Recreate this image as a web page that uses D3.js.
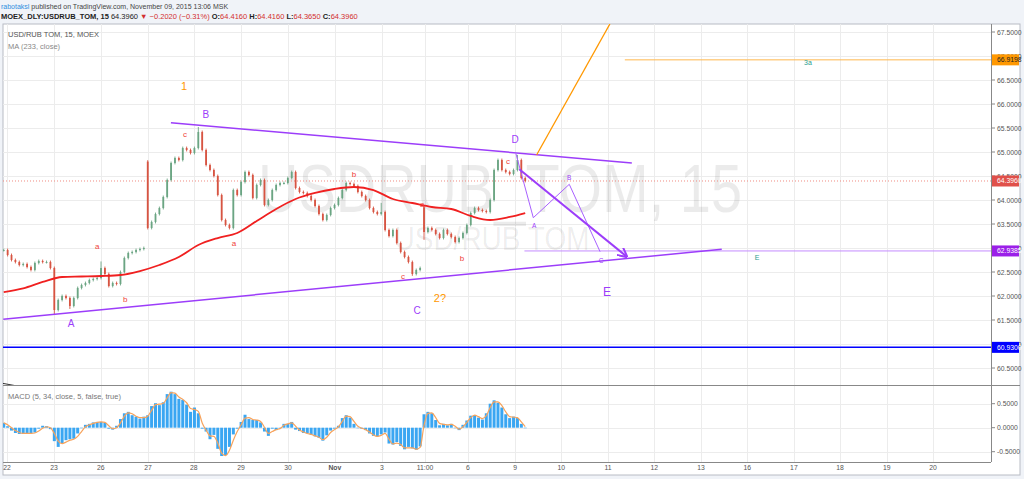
<!DOCTYPE html>
<html><head><meta charset="utf-8">
<script src="https://cdn.jsdelivr.net/npm/d3@7"></script>
<style>
body{margin:0;background:#f0f3f8;}
svg{display:block;font-family:"Liberation Sans",Arial,sans-serif;}
</style>
</head><body>
<svg id="c" width="1024" height="479"></svg>
<script>
// ---------------- DATA ----------------
// 15-min USD/RUB candles, sampled ~every 2 hours of trading (1/12 trading day)
const candleStart = -0.07;     // day index of first candle (22 Oct = 0)
const candleStep = 1/12;       // day index per candle
const closes = [62.958,62.854,62.75,62.708,62.646,62.667,62.604,62.542,62.688,62.729,
62.708,62.708,62.583,61.708,61.917,62.0,61.958,61.792,61.958,62.167,
62.229,62.271,62.333,62.354,62.375,62.583,62.458,62.208,62.271,62.25,
62.5,62.792,62.896,62.917,62.958,62.979,63.0,63.417,63.542,63.708,
63.833,64.063,64.417,64.771,64.875,64.833,65.083,65.042,64.979,65.083,
65.417,65.042,64.729,64.625,64.5,64.104,63.583,63.479,63.417,64.208,
64.104,64.375,64.583,64.521,64.042,64.313,64.417,63.896,64.0,64.208,
64.313,64.354,64.354,64.458,64.583,64.25,64.167,64.146,64.083,64.0,
63.875,63.708,63.583,63.688,63.833,63.896,64.042,64.208,64.354,64.333,
64.292,64.167,64.083,64.0,63.833,63.75,63.708,63.75,63.375,63.25,
63.375,63.104,62.917,62.813,62.708,62.458,62.542,62.583,63.333,63.417,
63.375,63.292,63.208,63.375,63.292,63.229,63.125,63.208,63.313,63.479,
63.729,63.833,63.792,63.771,63.75,64.0,64.625,64.833,64.625,64.583,
64.542,64.625,64.833,64.458,64.396];
// notable wicks / opens
const spikes = [
  {i:13, low:61.625},
  {i:17, low:61.73},
  {i:25, high:62.72},
  {i:37, open:64.8, high:64.83},
  {i:50, high:65.52},
  {i:97, high:63.94},
  {i:105, low:62.42},
  {i:108, open:63.85, low:63.17},
  {i:132, high:64.94}
];
// MA(233, close) samples: candle index and value
const maIdx  = [0,5,10,15,20,25,30,35,40,45,50,55,60,65,70,75,80,85,90,95,100,105,110,115,120,125,130,134];
const maVals = [62.083,62.16,62.292,62.396,62.406,62.417,62.4375,62.52,62.646,62.8125,63.0625,63.208,63.3125,63.5625,63.8125,64.02,64.146,64.229,64.271,64.208,64.021,63.9375,63.854,63.8125,63.667,63.583,63.646,63.729];
// MACD histogram and signal, one per candle
const macdHist = [0.10,0.03,-0.06,-0.11,-0.13,-0.13,-0.12,-0.12,-0.10,-0.02,
0.04,0.03,-0.03,-0.28,-0.40,-0.32,-0.26,-0.24,-0.23,-0.12,
0.00,0.06,0.08,0.11,0.12,0.12,0.10,-0.02,-0.04,0.04,
0.18,0.30,0.33,0.26,0.23,0.19,0.23,0.26,0.45,0.51,
0.47,0.53,0.70,0.75,0.70,0.60,0.58,0.48,0.33,0.42,
0.30,-0.02,-0.08,-0.24,-0.15,-0.44,-0.59,-0.57,-0.40,-0.14,
-0.02,0.12,0.27,0.18,0.16,0.16,0.11,-0.08,-0.17,-0.02,
-0.05,-0.01,0.08,0.08,0.12,-0.04,-0.07,-0.11,-0.12,-0.15,
-0.18,-0.21,-0.27,-0.16,-0.06,-0.02,0.04,0.20,0.26,0.21,
0.08,0.00,-0.02,-0.05,-0.12,-0.17,-0.18,-0.14,-0.10,-0.33,
-0.35,-0.30,-0.38,-0.45,-0.40,-0.43,-0.46,-0.39,0.28,0.33,
0.30,0.16,0.05,0.08,0.05,0.08,0.00,-0.05,0.06,0.15,
0.25,0.26,0.21,0.17,0.30,0.50,0.57,0.52,0.42,0.28,
0.20,0.23,0.20,0.08,-0.01];
const macdSignal = [0.10,0.06,0.00,-0.06,-0.10,-0.12,-0.12,-0.12,-0.11,-0.07,
-0.01,0.02,0.00,-0.12,-0.28,-0.33,-0.30,-0.26,-0.24,-0.18,
-0.08,0.02,0.06,0.09,0.11,0.12,0.11,0.04,-0.02,0.00,
0.10,0.24,0.31,0.29,0.24,0.21,0.21,0.24,0.36,0.48,
0.49,0.51,0.62,0.73,0.72,0.64,0.59,0.52,0.40,0.38,
0.34,0.10,-0.05,-0.17,-0.18,-0.32,-0.53,-0.58,-0.47,-0.26,
-0.08,0.06,0.20,0.21,0.17,0.16,0.13,0.01,-0.12,-0.08,
-0.04,-0.02,0.05,0.08,0.10,0.03,-0.05,-0.09,-0.12,-0.14,
-0.17,-0.20,-0.25,-0.20,-0.10,-0.04,0.02,0.13,0.24,0.23,
0.13,0.03,-0.01,-0.04,-0.09,-0.15,-0.18,-0.16,-0.12,-0.24,
-0.34,-0.32,-0.35,-0.42,-0.42,-0.42,-0.45,-0.41,0.05,0.30,
0.31,0.21,0.09,0.07,0.06,0.07,0.03,-0.03,0.02,0.11,
0.21,0.26,0.23,0.19,0.25,0.42,0.54,0.54,0.46,0.33,
0.23,0.22,0.21,0.12,0.02];
// time axis
const tickLabels = ["22","23","26","27","28","29","30","Nov","3","11:00","6","9","10","11","12","13","16","17","18","19","20"];
const tickTimes  = [0,1.006,2.01,3.02,4.0,5.01,6.02,7.02,8.03,8.95,9.87,10.88,11.87,12.87,13.86,14.86,15.85,16.85,17.84,18.84,19.83];
const priceTicks = [60.5,61,61.5,62,62.5,63,63.5,64,64.5,65,65.5,66,66.5,67,67.5];
const macdTicks = [-0.5,0,0.5];
// drawings (day index, price)
const trendLines = [
  {t1:3.51,p1:65.61,t2:13.38,p2:64.771,kind:"violet"},
  {t1:-0.079,p1:61.515,t2:15.305,p2:62.973,kind:"violet"},
  {t1:11.34,p1:64.9375,t2:12.91,p2:67.667,kind:"orange"},
  {t1:-0.15,p1:60.19,t2:0.25,p2:60.12,kind:"dark"}
];
const hLines = [
  {p:66.9198, t1:13.23, kind:"orange"},
  {p:62.9385, t1:11.08, kind:"violetThin"},
  {p:60.93,   t1:null,  kind:"blue"}
];
const lastPrice = 64.396;
const abcPoints = [[10.90,64.958],[11.27,63.631],[12.04,64.327],[12.70,62.923]];
const arrowLine = [[10.97,64.64],[13.27,62.82]];
const waveLabels = [
  {t:3.79,p:66.375,s:"1",c:"orange",f:11},
  {t:4.26,p:65.79,s:"B",c:"violet",f:10},
  {t:3.81,p:65.375,s:"c",c:"red",f:8},
  {t:1.37,p:61.417,s:"A",c:"violet",f:10},
  {t:1.93,p:63.04,s:"a",c:"red",f:8},
  {t:2.53,p:61.917,s:"b",c:"red",f:8},
  {t:4.86,p:63.104,s:"a",c:"red",f:8},
  {t:7.43,p:64.54,s:"b",c:"red",f:8},
  {t:8.89,p:63.896,s:"a",c:"red",f:8},
  {t:8.48,p:62.396,s:"c",c:"red",f:8},
  {t:9.74,p:62.79,s:"b",c:"red",f:8},
  {t:8.78,p:61.708,s:"C",c:"violet",f:10},
  {t:9.27,p:61.958,s:"2?",c:"orange",f:11},
  {t:10.88,p:65.27,s:"D",c:"violet",f:10},
  {t:10.73,p:64.81,s:"c",c:"red",f:8},
  {t:12.85,p:62.083,s:"E",c:"violet",f:12},
  {t:17.15,p:66.875,s:"3a",c:"teal",f:7},
  {t:16.06,p:62.8125,s:"E",c:"teal",f:7}
];
const abcLabels = [
  {t:11.29,p:63.47,s:"A"},{t:12.04,p:64.47,s:"B"},{t:12.72,p:62.75,s:"C"}
];

// ---------------- LAYOUT ----------------
const L=3, R=991, AR=1020, T=24, MB=385, PT=386, PB=462, B=475;
const col = {violet:"#9c3dfa", orange:"#ff9800", red:"#f0433a", teal:"#2a9d8f", dark:"#333", blue:"#0000ff"};
const svg = d3.select("#c");
const x = d3.scaleLinear().domain([0,20]).range([7,941]);
const y = d3.scaleLinear().domain([62,67.5]).range([296,32]);
const ym = d3.scaleLinear().domain([-0.5,0.5]).range([451.7,403.7]);
const tOf = i => candleStart + i*candleStep;

// header
svg.append("rect").attr("width",1024).attr("height",479).attr("fill","#f0f3f8");
const h1 = svg.append("text").attr("x",1).attr("y",8.5).attr("font-size",7).attr("fill","#444");
h1.append("tspan").attr("fill","#2f8fe0").text("rabotaksl");
h1.append("tspan").text(" published on TradingView.com, November 09, 2015 13:06 MSK");
const h2 = svg.append("text").attr("x",1).attr("y",18.5).attr("font-size",7.5).attr("fill","#222");
h2.append("tspan").attr("font-weight","bold").text("MOEX_DLY:USDRUB_TOM, 15");
h2.append("tspan").text(" 64.3960 ");
h2.append("tspan").attr("fill","#d32f2f").text("▼ −0.2020 (−0.31%) ");
[["O:","64.4160"],["H:","64.4160"],["L:","64.3650"],["C:","64.3960"]].forEach(([k,v])=>{
  h2.append("tspan").attr("font-weight","bold").text(k);
  h2.append("tspan").attr("fill","#d32f2f").text(v+" ");
});

// chart frame
svg.append("rect").attr("x",L).attr("y",T).attr("width",AR-L).attr("height",B-T).attr("fill","#fff").attr("stroke","#b8bcc4");
svg.append("defs").html(`
 <clipPath id="cm"><rect x="${L}" y="${T}" width="${R-L}" height="${MB-T}"/></clipPath>
 <clipPath id="cp"><rect x="${L}" y="${PT}" width="${R-L}" height="${PB-PT}"/></clipPath>
 <marker id="arr" viewBox="0 0 10 10" refX="9" refY="5" markerWidth="5" markerHeight="5" orient="auto"><path d="M0,0 L10,5 L0,10" fill="none" stroke="${col.violet}" stroke-width="2"/></marker>`);

// grid
const grid = svg.append("g").attr("stroke","#ececec").attr("stroke-width",1);
priceTicks.forEach(p=>grid.append("line").attr("x1",L).attr("x2",R).attr("y1",Math.round(y(p))+0.5).attr("y2",Math.round(y(p))+0.5));
macdTicks.forEach(p=>grid.append("line").attr("x1",L).attr("x2",R).attr("y1",Math.round(ym(p))+0.5).attr("y2",Math.round(ym(p))+0.5));
tickTimes.forEach(t=>{
  const xx=Math.round(x(t))+0.5;
  grid.append("line").attr("x1",xx).attr("x2",xx).attr("y1",T).attr("y2",MB);
  grid.append("line").attr("x1",xx).attr("x2",xx).attr("y1",PT).attr("y2",PB);
});

// watermark
svg.append("text").attr("x",500).attr("y",212).attr("text-anchor","middle").attr("font-size",68)
  .attr("textLength",484).attr("lengthAdjust","spacingAndGlyphs").attr("fill","#000").attr("fill-opacity",0.08).text("USDRUB_TOM, 15");
svg.append("text").attr("x",492).attr("y",250).attr("text-anchor","middle").attr("font-size",34)
  .attr("textLength",195).attr("lengthAdjust","spacingAndGlyphs").attr("fill","#000").attr("fill-opacity",0.08).text("USD/RUB TOM");

// legend
svg.append("text").attr("x",8).attr("y",37).attr("font-size",7.5).attr("fill","#555").text("USD/RUB TOM, 15, MOEX");
svg.append("text").attr("x",8).attr("y",49).attr("font-size",7.5).attr("fill","#888").text("MA (233, close)");
svg.append("text").attr("x",8).attr("y",399).attr("font-size",7.5).attr("fill","#777").text("MACD (5, 34, close, 5, false, true)");

const main = svg.append("g").attr("clip-path","url(#cm)");

// last price dotted line
main.append("line").attr("x1",L).attr("x2",R).attr("y1",y(lastPrice)).attr("y2",y(lastPrice))
  .attr("stroke","#f08a80").attr("stroke-dasharray","1,2");

// candles
const candles = closes.map((c,i)=>{
  let o = i===0 ? c : closes[i-1];
  const sp = spikes.find(s=>s.i===i)||{};
  if(sp.open!==undefined) o = sp.open;
  const hi = sp.high!==undefined ? sp.high : Math.max(o,c)+0.03;
  const lo = sp.low!==undefined ? sp.low : Math.min(o,c)-0.03;
  return {t:tOf(i),o,c,hi,lo};
});
const cg = main.append("g");
candles.forEach(d=>{
  const up = d.c>=d.o, color = up?"#6ba583":"#d75442";
  const xx = x(d.t);
  cg.append("line").attr("x1",xx).attr("x2",xx).attr("y1",y(d.hi)).attr("y2",y(d.lo)).attr("stroke",color).attr("stroke-width",0.9);
  const top=Math.min(y(d.o),y(d.c)), h=Math.max(1,Math.abs(y(d.o)-y(d.c)));
  cg.append("rect").attr("x",xx-0.9).attr("y",top).attr("width",1.8).attr("height",h).attr("fill",color);
});

// MA
main.append("path").datum(maIdx.map((k,j)=>[tOf(k),maVals[j]]))
  .attr("d",d3.line().x(d=>x(d[0])).y(d=>y(d[1])).curve(d3.curveMonotoneX))
  .attr("fill","none").attr("stroke","#f02020").attr("stroke-width",1.8);

// horizontal drawings
hLines.forEach(hl=>{
  const x1 = hl.t1===null ? L : x(hl.t1);
  const st = hl.kind==="orange"?{c:"#ffb74d",w:1}:hl.kind==="blue"?{c:col.blue,w:1.5}:{c:"#c48cff",w:1};
  main.append("line").attr("x1",x1).attr("x2",R).attr("y1",y(hl.p)).attr("y2",y(hl.p)).attr("stroke",st.c).attr("stroke-width",st.w);
});
// trend lines
trendLines.forEach(tl=>{
  const st = tl.kind==="violet"?{c:col.violet,w:1.5}:tl.kind==="orange"?{c:col.orange,w:1.3}:{c:col.dark,w:1};
  main.append("line").attr("x1",x(tl.t1)).attr("y1",y(tl.p1)).attr("x2",x(tl.t2)).attr("y2",y(tl.p2)).attr("stroke",st.c).attr("stroke-width",st.w);
});
// ABC pattern
main.append("path").datum(abcPoints).attr("d",d3.line().x(d=>x(d[0])).y(d=>y(d[1])))
  .attr("fill","none").attr("stroke","#a860ff").attr("stroke-width",1);
// arrow
main.append("line").attr("x1",x(arrowLine[0][0])).attr("y1",y(arrowLine[0][1])).attr("x2",x(arrowLine[1][0])).attr("y2",y(arrowLine[1][1]))
  .attr("stroke",col.violet).attr("stroke-width",2).attr("marker-end","url(#arr)");
// labels
waveLabels.forEach(w=>{
  main.append("text").attr("x",x(w.t)).attr("y",y(w.p)).attr("text-anchor","middle").attr("dominant-baseline","central")
    .attr("font-size",w.f).attr("fill",col[w.c]).text(w.s);
});
abcLabels.forEach(w=>{
  main.append("text").attr("x",x(w.t)).attr("y",y(w.p)).attr("text-anchor","middle").attr("dominant-baseline","central")
    .attr("font-size",6.5).attr("fill","#9c3dfa").text(w.s);
});

// MACD
const mg = svg.append("g").attr("clip-path","url(#cp)");
macdHist.forEach((v,i)=>{
  const xx=x(tOf(i)), y0=ym(0), y1=ym(v);
  mg.append("rect").attr("x",xx-1.5).attr("width",3).attr("y",Math.min(y0,y1)).attr("height",Math.max(0.5,Math.abs(y1-y0))).attr("fill","#3aa6f2");
});
mg.append("path").datum(macdSignal).attr("d",d3.line().x((d,i)=>x(tOf(i))).y(d=>ym(d)).curve(d3.curveMonotoneX))
  .attr("fill","none").attr("stroke","#f7a35c").attr("stroke-width",1.2);

// separators and axes
svg.append("line").attr("x1",L).attr("x2",AR).attr("y1",MB+0.5).attr("y2",MB+0.5).attr("stroke","#888");
svg.append("line").attr("x1",L).attr("x2",R).attr("y1",PB+0.5).attr("y2",PB+0.5).attr("stroke","#888");
svg.append("line").attr("x1",R+0.5).attr("x2",R+0.5).attr("y1",T).attr("y2",PB).attr("stroke","#888");

const fmt = d3.format(".4f");
const ax = svg.append("g").attr("font-size",6.8).attr("fill","#555");
priceTicks.forEach(p=>{
  ax.append("line").attr("x1",R).attr("x2",R+4).attr("y1",y(p)).attr("y2",y(p)).attr("stroke","#888");
  ax.append("text").attr("x",R+6).attr("y",y(p)).attr("dominant-baseline","central").text(fmt(p));
});
macdTicks.forEach(p=>{
  ax.append("line").attr("x1",R).attr("x2",R+4).attr("y1",ym(p)).attr("y2",ym(p)).attr("stroke","#888");
  ax.append("text").attr("x",R+6).attr("y",ym(p)).attr("dominant-baseline","central").text(fmt(p).replace("−","-"));
});
tickLabels.forEach((s,k)=>{
  ax.append("text").attr("x",x(tickTimes[k])).attr("y",467.5).attr("text-anchor","middle").attr("dominant-baseline","central")
    .attr("font-weight",s==="Nov"?"bold":"normal").text(s);
});

// price labels on axis
const boxes = [
  {p:66.9198,bg:"#ff9800",fg:"#222"},
  {p:lastPrice,bg:"#e0504a",fg:"#fff"},
  {p:62.9385,bg:"#9b1fe8",fg:"#fff"},
  {p:60.93,bg:"#0000ff",fg:"#fff"}
];
boxes.forEach(b=>{
  svg.append("rect").attr("x",R+1).attr("y",y(b.p)-5.5).attr("width",AR-R-2).attr("height",11).attr("fill",b.bg);
  svg.append("text").attr("x",R+6).attr("y",y(b.p)).attr("dominant-baseline","central").attr("font-size",6.8).attr("fill",b.fg).text(fmt(b.p));
});
</script>
</body></html>
